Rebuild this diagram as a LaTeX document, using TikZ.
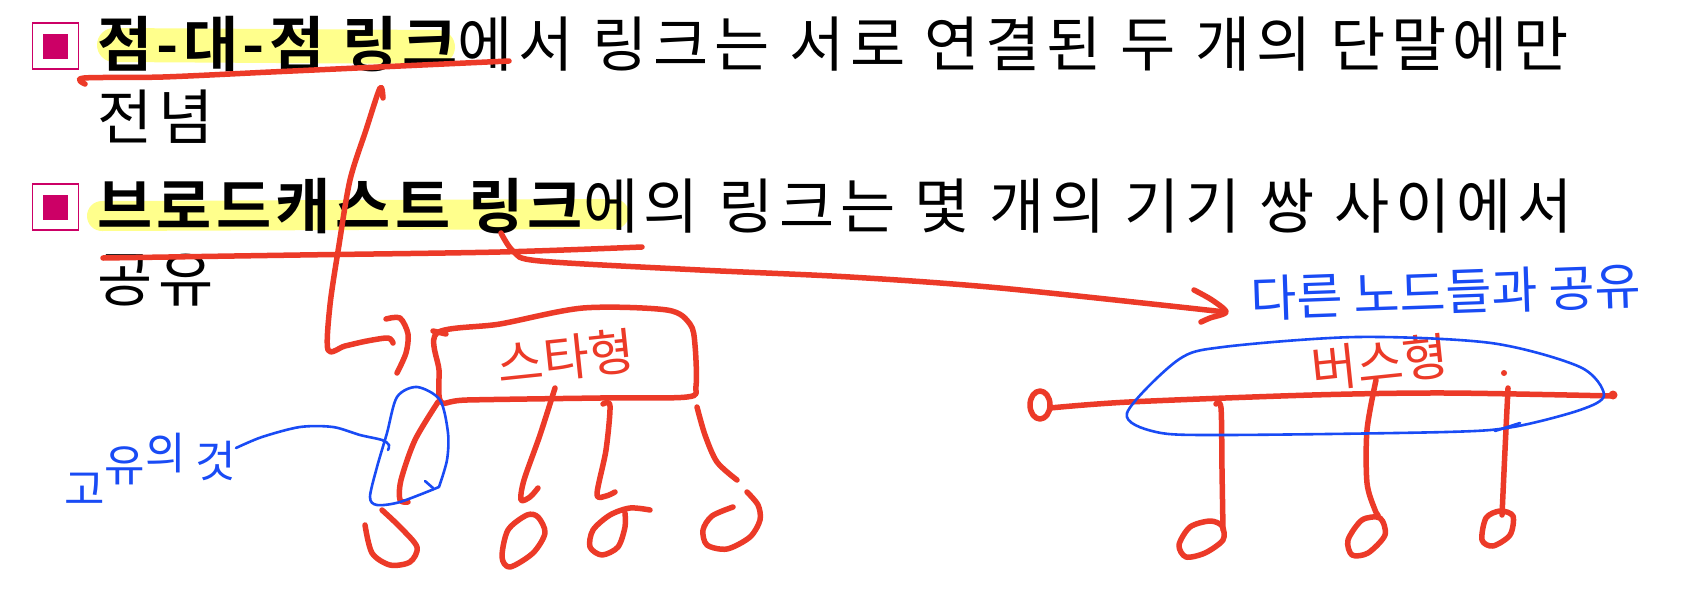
\documentclass[tikz,border=0pt]{standalone}
\usepackage{fontspec}
\newfontfamily\kr{Noto Sans CJK KR}
\newfontfamily\krsp{Noto Sans CJK KR}[LetterSpace=9.6]
\newfontfamily\krb{Noto Sans CJK KR Bold}[LetterSpace=7.3]
\definecolor{pen}{RGB}{236,58,40}
\definecolor{bpen}{RGB}{25,75,245}
\definecolor{hl}{RGB}{255,255,140}
\definecolor{bul}{RGB}{204,0,102}
\begin{document}
\begin{tikzpicture}[x=1pt,y=-1pt,
  redpen/.style={draw=pen, line width=5.5pt, line cap=round, line join=round},
  bluepen/.style={draw=bpen, line width=2.6pt, line cap=round, line join=round},
  hlstroke/.style={draw=hl, line cap=round},
  body/.style={font=\krsp\fontsize{60}{60}\selectfont, anchor=base west, inner sep=0pt},
  bulout/.style={draw=bul, line width=1.6pt, minimum size=46pt, inner sep=0pt},
  bulin/.style={fill=bul, minimum size=25pt, inner sep=0pt},
  redhand/.style={text=pen, font=\kr\fontsize{50}{50}\selectfont, inner sep=0pt},
  bluehand/.style={text=bpen, font=\kr\fontsize{46}{46}\selectfont, inner sep=0pt}
]
\useasboundingbox (0,0) rectangle (1699,613);
\fill[white] (0,0) rectangle (1699,613);

% highlights
\draw[hlstroke, line width=34pt] (114,45) -- (438,47);
\draw[hlstroke, line width=30pt] (102,216) -- (614,214);

% bullets
\node[bulout] (b1) at (55.5,46) {};
\node[bulin] (b1i) at (b1.center) {};
\node[bulout] (b2) at (55.5,207) {};
\node[bulin] (b2i) at (b2.center) {};

% body text
\node[body] (l1) at (97,66) {{\krb 점-대-점 링크}에서 링크는 서로 연결된 두 개의 단말에만};
\node[body] (l2) at (97,139) {전념};
\node[body] (l3) at (97,228) {{\krb 브로드캐스트 링크}에의 링크는 몇 개의 기기 쌍 사이에서};
\node[body] (l4) at (97,301) {공유};

% underlines
\draw[redpen] plot[smooth] coordinates {(85,84)(84,78)(163,77)(271,72)(379,67)(509,61)};
\draw[redpen] plot[smooth] coordinates {(103,258)(300,255)(500,252)(642,247)};

% long stroke to star
\draw[redpen] plot[smooth] coordinates {(383,98)(380,88)(366,130)(350,180)(339,245)(330,305)(328,350)(345,346)(367,341)(388,338)(393,343)};
\draw[redpen] plot[smooth] coordinates {(386,319)(400,318)(408,334)(406,353)(397,373)};

% star box
\draw[redpen] plot[smooth cycle] coordinates {(437,333)(500,324)(583,308)(667,310)(690,324)(695,345)(696,386)(687,397)(600,398)(467,400)(441,402)(439,370)};
\draw[redpen] (433,331) -- (446,334);
\node[redhand, rotate=6] (star) at (566,357) {스타형};

% star links
\draw[redpen] plot[smooth] coordinates {(438,402)(415,440)(401,480)(400,500)(408,502)};
\draw[redpen] plot[smooth] coordinates {(555,388)(540,435)(524,480)(521,500)(530,497)(538,488)};
\draw[redpen] plot[smooth] coordinates {(603,404)(610,406)(606,450)(597,494)(606,496)(615,492)};
\draw[redpen] plot[smooth] coordinates {(697,407)(705,435)(717,462)(737,480)};

% star stations
\draw[redpen] plot[smooth] coordinates {(382,510)(400,527)(417,547)(410,562)(390,565)(372,553)(365,525)};
\draw[redpen] plot[smooth cycle] coordinates {(538,517)(527,515)(508,530)(502,557)(510,567)(533,553)(545,533)};
\draw[redpen] plot[smooth] coordinates {(650,510)(630,508)(610,515)(593,530)(590,547)(602,555)(618,547)(625,527)(625,513)};
\draw[redpen] plot[smooth] coordinates {(747,492)(758,505)(760,520)(750,537)(727,549)(707,545)(703,530)(712,516)(733,507)};

% blue loop on star link
\draw[bluepen] plot[smooth] coordinates {(439,487)(447,460)(448,433)(440,400)(417,387)(397,397)(387,433)(377,467)(370,497)(377,505)(400,502)(439,487)};
\draw[bluepen] (425,481) -- (433,488);
\draw[bluepen] plot[smooth] coordinates {(236,448)(262,437)(300,427)(333,427)(360,435)(382,440)(389,445)(388,450)};
\node[bluehand, font=\kr\fontsize{44}{44}\selectfont, anchor=base west] (own) at (64,505) {고\raisebox{24pt}{유}\raisebox{36pt}{의} \raisebox{28pt}{것}};

% broadcast arrow
\draw[redpen] plot[smooth] coordinates {(501,233)(514,252)(540,261)(700,270)(850,277)(1000,288)(1225,312)};
\draw[redpen] plot[smooth] coordinates {(1194,290)(1212,300)(1226,312)(1210,318)(1201,322)};
\node[bluehand, font=\kr\fontsize{50}{50}\selectfont, rotate=2] (share) at (1446,292) {다른 노드들과 공유};

% bus
\draw[redpen] (1040,405) ellipse [x radius=10, y radius=14];
\draw[redpen] plot[smooth] coordinates {(1050,408)(1129,402)(1312,395)(1446,393)(1613,396)};
\fill[pen] (1613,395) circle (4.5);
\node[redhand, rotate=6] (bus) at (1380,362) {버스형};

\draw[redpen] plot[smooth] coordinates {(1216,404)(1221,408)(1222,470)(1223,530)};
\draw[redpen] plot[smooth] coordinates {(1376,380)(1367,430)(1367,483)(1375,510)(1378,515)};
\fill[pen] (1504,373) circle (3);
\draw[redpen] plot[smooth] coordinates {(1508,388)(1505,450)(1502,515)};

\draw[redpen] plot[smooth cycle] coordinates {(1222,526)(1210,521)(1190,527)(1179,545)(1186,557)(1205,553)(1223,540)};
\draw[redpen] plot[smooth cycle] coordinates {(1380,518)(1362,520)(1348,540)(1352,555)(1368,553)(1385,535)};
\draw[redpen] plot[smooth cycle] coordinates {(1500,511)(1486,518)(1482,540)(1493,546)(1510,535)(1513,516)};

% blue ellipse around bus
\draw[bluepen] plot[smooth cycle] coordinates {(1127,413)(1178,360)(1223,347)(1357,337)(1491,343)(1580,367)(1604,395)(1580,410)(1513,427)(1446,432)(1223,435)(1156,432)};
\draw[bluepen] (1495,431) -- (1520,423);
\end{tikzpicture}
\end{document}
